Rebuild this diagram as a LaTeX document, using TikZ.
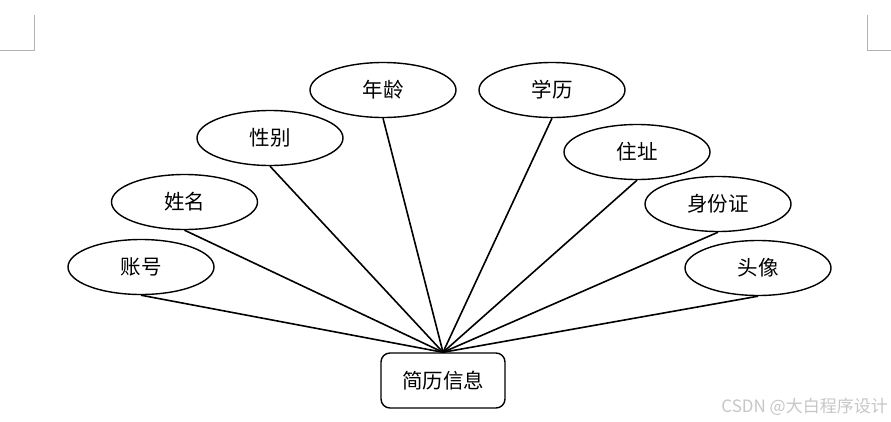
\documentclass[tikz,border=0pt]{standalone}
\usepackage{fontspec}
\usetikzlibrary{shapes.geometric}
\newfontfamily\cjk{Noto Sans CJK SC}
\begin{document}
\begin{tikzpicture}[x=1pt,y=-1pt,
  attr/.style={draw, ellipse, line width=1.4pt, minimum width=146pt, minimum height=55pt, inner sep=0pt, font=\cjk\fontsize{20.5}{22}\selectfont},
  ent/.style={draw, rectangle, rounded corners=9pt, line width=1.4pt, minimum width=124pt, minimum height=55pt, inner sep=0pt, font=\cjk\fontsize{20.5}{22}\selectfont},
  link/.style={line width=1.6pt},
  cornermark/.style={draw=gray!60, line width=0.8pt}]
\useasboundingbox (0,0) rectangle (891,421);
% corner marks
\draw[cornermark] (34,15) -- (34,50) -- (0,50);
\draw[cornermark] (867,15) -- (867,50) -- (891,50);
% entity
\node[ent] (r) at (443,380.5) {简历信息};
\coordinate (hub) at (r.north);
% attributes
\node[attr] (a1) at (141,267) {账号};
\node[attr] (a2) at (184.5,202) {姓名};
\node[attr] (a3) at (270,138) {性别};
\node[attr] (a4) at (383,90) {年龄};
\node[attr] (a5) at (552,90) {学历};
\node[attr] (a6) at (637,152) {住址};
\node[attr] (a7) at (718,204) {身份证};
\node[attr] (a8) at (758,268) {头像};
\foreach \n in {a1,a2,a3,a4,a5,a6,a7,a8}
  \draw[link] (\n.south) -- (hub);
% watermark
\node[anchor=east, text=gray!45, font=\cjk\fontsize{17}{19}\selectfont, inner sep=0pt] (wm) at (888,407) {CSDN @大白程序设计};
\end{tikzpicture}
\end{document}
